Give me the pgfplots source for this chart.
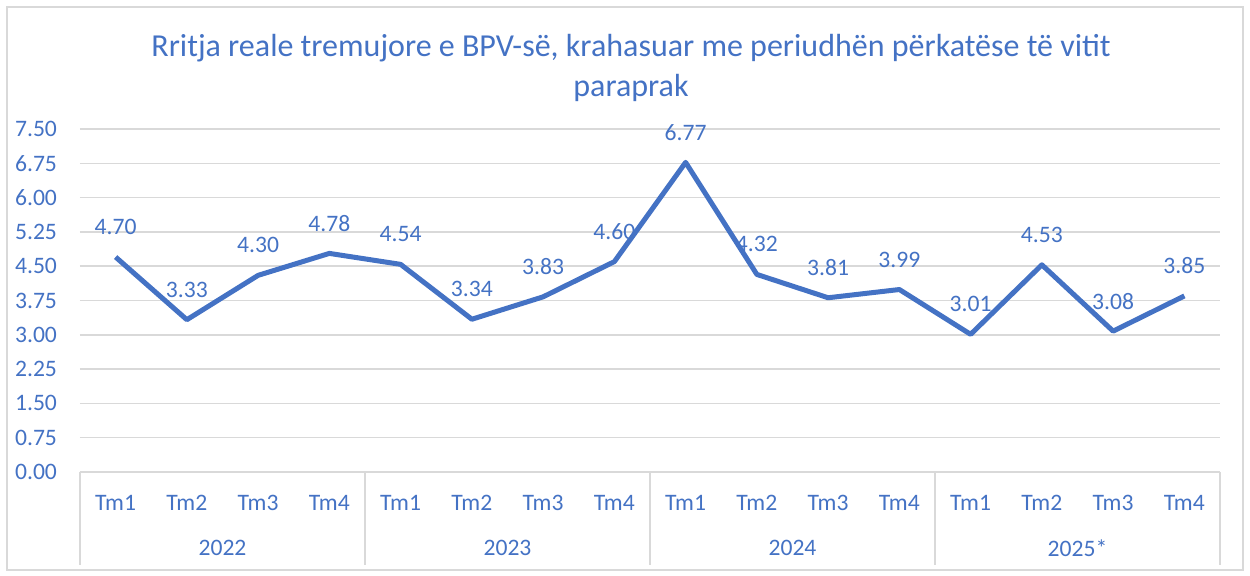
\documentclass[border=0pt]{standalone}
\usepackage{pgfplots}
\pgfplotsset{compat=1.18}
\usepackage{fontspec}
\setmainfont{Carlito}
\definecolor{txt}{HTML}{4472C4}
\definecolor{gridc}{HTML}{D9D9D9}
\begin{document}
\begin{tikzpicture}[x=1pt,y=1pt]
\useasboundingbox (-40,-52) rectangle (585,236);
\draw[gridc, line width=0.7pt] (-36.5,-49) rectangle (581.5,232.5);
\begin{axis}[
  at={(0,0)}, anchor=south west,
  scale only axis, width=570pt, height=171.5pt,
  xmin=-0.5, xmax=15.5, ymin=0, ymax=7.5,
  clip=false,
  axis line style={draw=none},
  major tick length=0pt,
  ytick={0,0.75,1.5,2.25,3,3.75,4.5,5.25,6,6.75,7.5},
  yticklabel={\pgfmathprintnumber[fixed,fixed zerofill,precision=2,assume math mode=true]{\tick}},
  yticklabel style={anchor=east, xshift=-8pt, color=txt, font=\fontsize{11.8}{13}\selectfont},
  ymajorgrids,
  grid style={gridc, line width=0.8pt},
  xtick={0,...,15},
  xticklabels={Tm1,Tm2,Tm3,Tm4,Tm1,Tm2,Tm3,Tm4,Tm1,Tm2,Tm3,Tm4,Tm1,Tm2,Tm3,Tm4},
  xticklabel style={anchor=center, yshift=-15.5pt, color=txt, font=\fontsize{11.8}{13}\selectfont},
  nodes near coords={\pgfmathprintnumber[fixed,fixed zerofill,precision=2,assume math mode=true]{\pgfplotspointmeta}},
  every node near coord/.append style={anchor=center, yshift=15pt, color=txt, font=\fontsize{11.8}{13}\selectfont},
  point meta=y,
]
\addplot[color=txt, line width=2.5pt, mark=none, line join=round] coordinates {
(0,4.70) (1,3.33) (2,4.30) (3,4.78)
(4,4.54) (5,3.34) (6,3.83) (7,4.60)
(8,6.77) (9,4.32) (10,3.81) (11,3.99)
(12,3.01) (13,4.53) (14,3.08) (15,3.85)
};
\end{axis}
\draw[gridc, line width=0.8pt] (0,0) -- (570,0);
\foreach \xx in {0,142.5,285,427.5,570} {\draw[gridc, line width=0.8pt] (\xx,0) -- (\xx,-46.5);}
\foreach \xx/\yy in {71.25/2022,213.75/2023,356.25/2024,498.75/2025*} {\node[color=txt, font=\fontsize{11.8}{13}\selectfont] at (\xx,-38) {\yy};}
\node[color=txt, font=\fontsize{16}{20}\selectfont, align=center] at (275.5,202) {Rritja reale tremujore e BPV-së, krahasuar me periudhën përkatëse të vitit\\paraprak};
\end{tikzpicture}
\end{document}
